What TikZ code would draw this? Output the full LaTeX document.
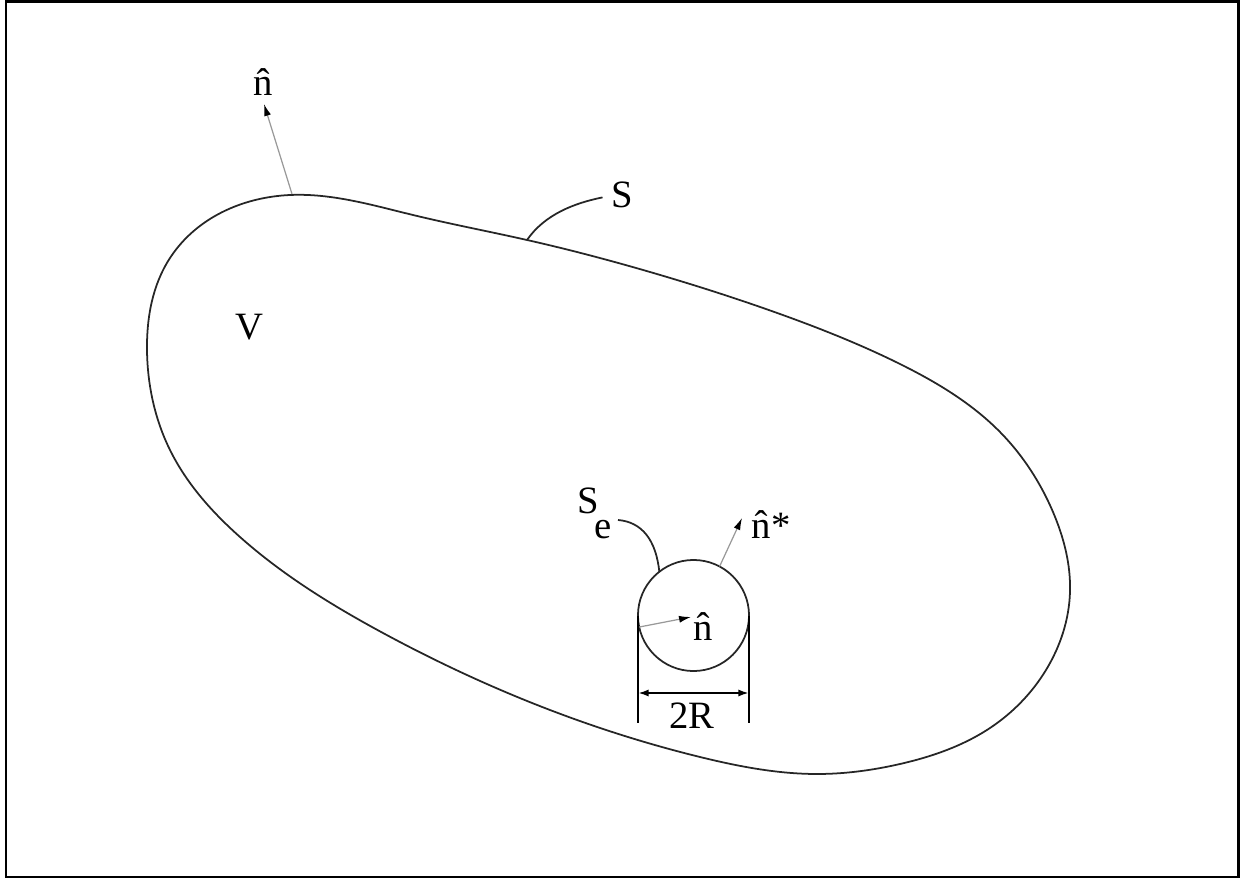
\documentclass[tikz,border=0pt]{standalone}
\usepackage{fontspec}
\setmainfont{Liberation Serif}
\usetikzlibrary{arrows.meta, calc, hobby}

\tikzset{
  outline/.style={black!85, line width=0.5pt},
  normal/.style={black!40, line width=0.35pt, -{Latex[length=3.4pt,width=2pt,color=black]}},
  dimline/.style={black, line width=0.6pt},
  lab/.style={font=\fontsize{11}{13}\selectfont, inner sep=0pt}
}

\begin{document}
\begin{tikzpicture}[x=0.01cm, y=-0.01cm]
  \useasboundingbox (0,0) rectangle (1257,882);
  \draw[black, line width=0.85pt] (6,1.5) rectangle (1238,877);

  % volume V and its surface S
  \draw[outline] plot[closed hobby] coordinates {
    (290,195) (413,215) (527,240) (650,272) (780,314) (900,364)
    (1000,432) (1053,512) (1070,592) (1046,670) (990,728)
    (900,764) (817,774) (700,757) (550,710) (383,633)
    (240,537) (170,450) (147,350) (170,258)};
  \node[lab, anchor=base] (vlab) at (249,340) {V};

  % outward normal on S
  \coordinate (nfoot) at (292,194);
  \coordinate (ntip) at (264,104);
  \node[lab, anchor=base] (nlab) at (263,96) {\^{n}};
  \draw[normal] (nfoot) -- (ntip);

  % label S
  \coordinate (stick) at (527,240);
  \node[lab, anchor=base] (slab) at (622,208) {S};
  \draw[outline] (stick) .. controls (545,214) and (575,203) .. ($(slab.west)+(-8,2)$);

  % excluded sphere S_e of radius R
  \node[circle, draw=black!85, line width=0.5pt, minimum size=1.11cm,
        inner sep=0pt, outer sep=0pt] (se) at (693.5,615.5) {};
  \node[lab, anchor=base west] (selab) at (577,513)
        {S\kern-0.12em\raisebox{-0.65em}{e}};
  \coordinate (setick) at (618,520);
  \draw[outline] (setick) .. controls (642,522) and (656,540) .. (se.128);

  % normals on S_e
  \node[lab, anchor=base] (nin) at (703,640) {\^{n}};
  \coordinate (nintip) at (691,617);
  \draw[normal] (se.192) -- (nintip);
  \node[lab, anchor=base west] (nstar) at (751,538) {\^{n}*};
  \coordinate (nstartip) at (742,518);
  \draw[normal] (se.62) -- (nstartip);

  % dimension 2R
  \coordinate (dimbot) at (0,723);
  \coordinate (dimy) at (0,693);
  \draw[dimline] (se.west) -- (se.west |- dimbot);
  \draw[dimline] (se.east) -- (se.east |- dimbot);
  \draw[dimline, {Latex[length=3pt,width=2pt]}-{Latex[length=3pt,width=2pt]}]
        (se.west |- dimy) -- (se.east |- dimy);
  \node[lab, anchor=base] (dimlab) at (692,728) {2R};
\end{tikzpicture}
\end{document}
